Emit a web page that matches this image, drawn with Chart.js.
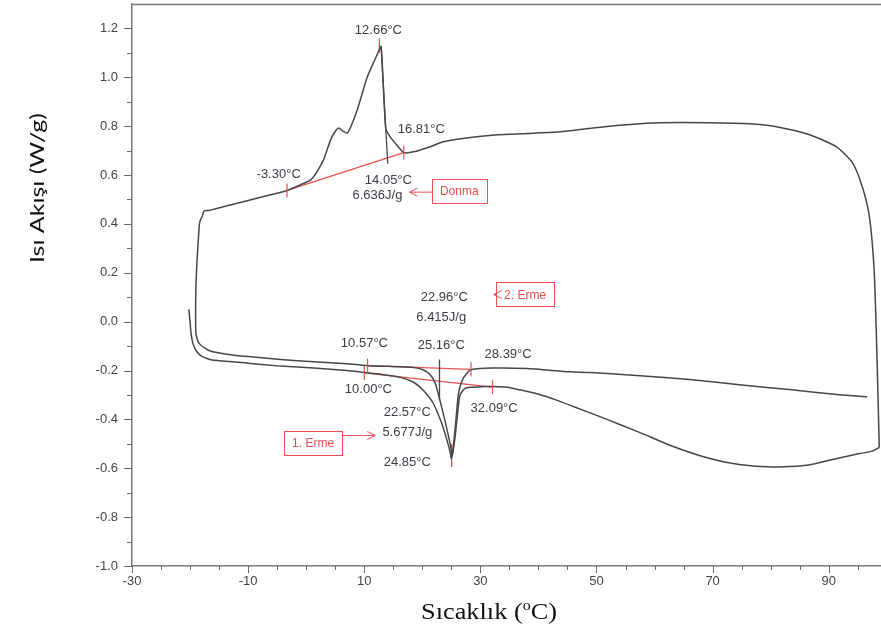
<!DOCTYPE html>
<html>
<head>
<meta charset="utf-8">
<script src="https://cdn.jsdelivr.net/npm/chart.js@4.4.1/dist/chart.umd.min.js"></script>
<style>
  html, body { margin: 0; padding: 0; background: #fff; }
  #wrap { width: 881px; height: 630px; }
</style>
</head>
<body>
<div id="wrap"><canvas id="dscChart" width="881" height="630"></canvas></div>
<script>
// 1. heating run (outer lower curve), left to right
const heat1T = [-20.2, -20.0, -19.85, -19.5, -19.0, -18.2, -17.0, -15.9, -10, -4.4, 1.3, 7, 10, 12.8, 16.2, 18.5, 20.2, 21.9, 23.4, 24.3, 24.8, 25.0, 25.3, 25.7, 26.1, 26.5, 27.4, 28.5, 30.5, 32.1, 34.6, 37, 40.3, 43, 46, 51.8, 57.5, 63.1, 68.9, 74.6, 80.3, 86.2, 91.8, 95.3, 97.5, 98.7];
const heat1Q = [0.05, 0.0, -0.045, -0.09, -0.117, -0.138, -0.152, -0.158, -0.170, -0.182, -0.19, -0.2, -0.208, -0.215, -0.228, -0.248, -0.282, -0.335, -0.42, -0.49, -0.535, -0.56, -0.53, -0.46, -0.37, -0.30, -0.272, -0.268, -0.266, -0.265, -0.268, -0.28, -0.299, -0.32, -0.347, -0.40, -0.454, -0.51, -0.556, -0.585, -0.595, -0.588, -0.558, -0.54, -0.53, -0.515];

// cooling run (upper curve), right to left
const coolT = [98.7, 98.5, 98.2, 97.8, 97.0, 95.8, 94.1, 91.3, 86.7, 81, 76.4, 69.5, 60.9, 55.2, 49.4, 43.7, 38.2, 32.9, 27, 23.6, 21.4, 18.5, 16.8, 15.7, 14.5, 13.7, 12.9, 12.2, 11.4, 10.5, 9.6, 8.8, 7.9, 7.1, 6.3, 5.6, 4.9, 4.2, 3.0, 1.9, 0.8, -1.0, -3.3, -7, -11, -15.9, -16.7, -17.6, -17.9, -18.2, -18.4];
const coolQ = [-0.515, -0.32, -0.05, 0.22, 0.43, 0.55, 0.65, 0.716, 0.765, 0.798, 0.81, 0.814, 0.814, 0.806, 0.793, 0.777, 0.77, 0.765, 0.75, 0.736, 0.716, 0.695, 0.692, 0.72, 0.755, 0.79, 1.126, 1.092, 1.05, 1.0, 0.93, 0.867, 0.81, 0.772, 0.78, 0.793, 0.775, 0.744, 0.663, 0.615, 0.58, 0.56, 0.537, 0.514, 0.49, 0.46, 0.455, 0.453, 0.43, 0.417, 0.40];

// 2. heating run (inner lower curve), left to right
const heat2T = [-18.4, -18.8, -19.0, -19.0, -18.5, -17.0, -15.9, -13, -10, -4.4, 1.3, 7, 10.6, 14, 18.5, 20.2, 21.4, 22.2, 22.8, 23.95, 24.8, 25.15, 25.67, 26.2, 26.8, 27.7, 28.5, 32, 38, 45.4, 48.9, 57.5, 66, 74.6, 83.2, 91.8, 96.6];
const heat2Q = [0.40, 0.25, 0.131, -0.045, -0.087, -0.115, -0.124, -0.135, -0.143, -0.155, -0.164, -0.172, -0.18, -0.183, -0.188, -0.198, -0.218, -0.25, -0.30, -0.41, -0.50, -0.545, -0.435, -0.30, -0.244, -0.21, -0.196, -0.19, -0.192, -0.205, -0.208, -0.221, -0.237, -0.258, -0.278, -0.299, -0.307];

// analysis lines (black partial-area drops)
const dropFreezeT = [12.9, 14.05];
const dropFreezeQ = [1.126, 0.646];
const dropMeltT = [22.96, 22.96];
const dropMeltQ = [-0.155, -0.319];

// red baselines
const donmaBaseT = [-3.30, 16.81];
const donmaBaseQ = [0.537, 0.692];
const erme2BaseT = [10.57, 28.39];
const erme2BaseQ = [-0.18, -0.195];
const erme1BaseT = [10.00, 32.09];
const erme1BaseQ = [-0.21, -0.268];
const peakMarkT = [12.6, 12.6];
const peakMarkQ = [1.10, 1.16];
const meltMarkT = [25.05, 25.05];
const meltMarkQ = [-0.50, -0.595];

// axis ticks
const xTicks = [];
for (let v = -30; v <= 95; v += 5) xTicks.push(v);
const yTicks = [];
for (let i = -10; i <= 12; i++) yTicks.push(i / 10);

// text notes (anchored in data units)
const notes = [
  ['12.66°C', 12.44, 1.190],
  ['16.81°C', 19.83, 0.785],
  ['-3.30°C', -4.74, 0.601],
  ['14.05°C', 14.16, 0.577],
  ['6.636J/g', 12.27, 0.515],
  ['22.96°C', 23.78, 0.098],
  ['6.415J/g', 23.26, 0.016],
  ['10.57°C', 10.03, -0.090],
  ['25.16°C', 23.26, -0.098],
  ['28.39°C', 34.78, -0.135],
  ['10.00°C', 10.72, -0.278],
  ['32.09°C', 32.37, -0.356],
  ['22.57°C', 17.42, -0.372],
  ['5.677J/g', 17.42, -0.454],
  ['24.85°C', 17.42, -0.577]
];
// boxed labels: text, center T, center Q, arrow tip T, tip Q, side
const boxes = [
  ['Donma', 26.36, 0.534, 17.8, 0.530, 'left'],
  ['2. Erme', 37.7, 0.112, 32.3, 0.111, 'left'],
  ['1. Erme', 1.19, -0.495, 11.9, -0.466, 'right']
];

function pts(T, Q) {
  return T.map((t, i) => ({ x: t, y: Q[i] }));
}

const curveColor = '#474747';
const red = '#e8504f';

function lineSet(T, Q, color, width, tension) {
  return {
    data: pts(T, Q),
    borderColor: color,
    borderWidth: width,
    pointRadius: 0,
    tension: tension || 0,
    fill: false
  };
}

const dscPlugin = {
  id: 'dscExtras',
  afterDraw(chart) {
    const { ctx, chartArea: area, scales: { x, y } } = chart;
    ctx.save();

    // top frame line
    ctx.strokeStyle = '#7a7a7a';
    ctx.lineWidth = 1.5;
    ctx.beginPath();
    ctx.moveTo(area.left, area.top + 0.5);
    ctx.lineTo(area.right, area.top + 0.5);
    ctx.stroke();

    // tick marks
    ctx.lineWidth = 1;
    ctx.strokeStyle = '#6a6a6a';
    xTicks.forEach(v => {
      const px = Math.round(x.getPixelForValue(v)) + 0.5;
      const len = (v + 30) % 20 === 0 ? 7 : 4;
      ctx.beginPath();
      ctx.moveTo(px, area.bottom);
      ctx.lineTo(px, area.bottom + len);
      ctx.stroke();
    });
    yTicks.forEach(v => {
      const py = Math.round(y.getPixelForValue(v)) + 0.5;
      const len = Math.round(v * 10) % 2 === 0 ? 8 : 5;
      ctx.beginPath();
      ctx.moveTo(area.left, py);
      ctx.lineTo(area.left - len, py);
      ctx.stroke();
    });

    // red end ticks on the baselines
    ctx.strokeStyle = red;
    ctx.lineWidth = 1.2;
    [[donmaBaseT, donmaBaseQ], [erme2BaseT, erme2BaseQ], [erme1BaseT, erme1BaseQ]].forEach(([T, Q]) => {
      T.forEach((t, i) => {
        const px = x.getPixelForValue(t);
        const py = y.getPixelForValue(Q[i]);
        ctx.beginPath();
        ctx.moveTo(px, py - 7);
        ctx.lineTo(px, py + 7);
        ctx.stroke();
      });
    });

    // notes
    ctx.font = '13px "Liberation Sans", Arial, sans-serif';
    ctx.fillStyle = '#3c3c48';
    ctx.textAlign = 'center';
    ctx.textBaseline = 'middle';
    notes.forEach(([txt, t, q]) => {
      ctx.fillText(txt, x.getPixelForValue(t), y.getPixelForValue(q));
    });

    // boxed labels with arrows
    ctx.font = '12px "Liberation Sans", Arial, sans-serif';
    boxes.forEach(([txt, t, q, tipT, tipQ, side]) => {
      const cx = x.getPixelForValue(t);
      const cy = y.getPixelForValue(q);
      const w = ctx.measureText(txt).width + 16;
      const h = 24;
      ctx.strokeStyle = red;
      ctx.lineWidth = 1;
      ctx.strokeRect(Math.round(cx - w / 2) + 0.5, Math.round(cy - h / 2) + 0.5, Math.round(w), h);
      ctx.fillStyle = red;
      ctx.fillText(txt, cx, cy + 1);
      const sx = side === 'left' ? cx - w / 2 : cx + w / 2;
      const tx = x.getPixelForValue(tipT);
      const ty = y.getPixelForValue(tipQ);
      const dir = side === 'left' ? -1 : 1;
      ctx.beginPath();
      ctx.moveTo(sx, ty);
      ctx.lineTo(tx, ty);
      ctx.moveTo(tx - dir * 8, ty - 4);
      ctx.lineTo(tx, ty);
      ctx.lineTo(tx - dir * 8, ty + 4);
      ctx.stroke();
    });

    // y axis title (stretched along its length like the original)
    ctx.fillStyle = '#111';
    ctx.save();
    ctx.translate(44, 188);
    ctx.rotate(-Math.PI / 2);
    ctx.font = '19px Lato, "Open Sans", sans-serif';
    ctx.textAlign = 'center';
    ctx.textBaseline = 'alphabetic';
    const yTitle = 'Isı Akışı (W/g)';
    const yw = ctx.measureText(yTitle).width;
    ctx.scale(150 / yw, 1);
    ctx.fillText(yTitle, 0, 0);
    ctx.restore();

    // x axis title with superscript o
    const big = '23px "Liberation Serif", "Times New Roman", serif';
    const small = '14px "Liberation Serif", "Times New Roman", serif';
    ctx.textAlign = 'left';
    ctx.textBaseline = 'alphabetic';
    const part1 = 'Sıcaklık (';
    const part2 = 'o';
    const part3 = 'C)';
    ctx.font = big;
    const w1 = ctx.measureText(part1).width;
    const w3 = ctx.measureText(part3).width;
    ctx.font = small;
    const w2 = ctx.measureText(part2).width;
    const total = w1 + w2 + w3;
    const k = 136 / total;
    ctx.save();
    ctx.translate(489 - 68, 619);
    ctx.scale(k, 1);
    ctx.font = big;
    ctx.fillText(part1, 0, 0);
    ctx.font = small;
    ctx.fillText(part2, w1, -9);
    ctx.font = big;
    ctx.fillText(part3, w1 + w2, 0);
    ctx.restore();

    ctx.restore();
  }
};

new Chart(document.getElementById('dscChart'), {
  type: 'line',
  data: {
    datasets: [
      lineSet(heat1T, heat1Q, curveColor, 1.5, 0.2),
      lineSet(coolT, coolQ, curveColor, 1.5, 0.2),
      lineSet(heat2T, heat2Q, curveColor, 1.5, 0.2),
      lineSet(dropFreezeT, dropFreezeQ, curveColor, 1.3),
      lineSet(dropMeltT, dropMeltQ, curveColor, 1.3),
      lineSet(donmaBaseT, donmaBaseQ, red, 1.3),
      lineSet(erme2BaseT, erme2BaseQ, red, 1.3),
      lineSet(erme1BaseT, erme1BaseQ, red, 1.3),
      lineSet(peakMarkT, peakMarkQ, red, 1.3),
      lineSet(meltMarkT, meltMarkQ, red, 1.3)
    ]
  },
  options: {
    responsive: false,
    animation: false,
    devicePixelRatio: 1,
    layout: { padding: { top: 4, right: 0, left: 0, bottom: 0 } },
    plugins: {
      legend: { display: false },
      tooltip: { enabled: false }
    },
    scales: {
      x: {
        type: 'linear',
        min: -30,
        max: 99,
        afterBuildTicks: s => { s.ticks = xTicks.map(v => ({ value: v })); },
        afterFit: s => { s.height = 64; s.paddingRight = 0; },
        grid: { drawOnChartArea: false, drawTicks: true, tickLength: 7, color: 'rgba(0,0,0,0)' },
        border: { display: true, color: '#7a7a7a', width: 1.5 },
        ticks: {
          autoSkip: false,
          maxRotation: 0,
          padding: 1,
          color: '#444',
          font: { family: '"Liberation Sans", Arial, sans-serif', size: 13 },
          callback: v => ((v + 30) % 20 === 0 ? String(v) : '')
        }
      },
      y: {
        type: 'linear',
        min: -1.0,
        max: 1.3,
        afterBuildTicks: s => { s.ticks = yTicks.map(v => ({ value: v })); },
        afterFit: s => { s.width = 132; s.paddingTop = 0; s.paddingBottom = 0; },
        grid: { drawOnChartArea: false, drawTicks: true, tickLength: 8, color: 'rgba(0,0,0,0)' },
        border: { display: true, color: '#7a7a7a', width: 1.5 },
        ticks: {
          autoSkip: false,
          padding: 6,
          color: '#444',
          font: { family: '"Liberation Sans", Arial, sans-serif', size: 13 },
          callback: v => (Math.round(v * 10) % 2 === 0 ? v.toFixed(1) : '')
        }
      }
    }
  },
  plugins: [dscPlugin]
});
</script>
</body>
</html>
